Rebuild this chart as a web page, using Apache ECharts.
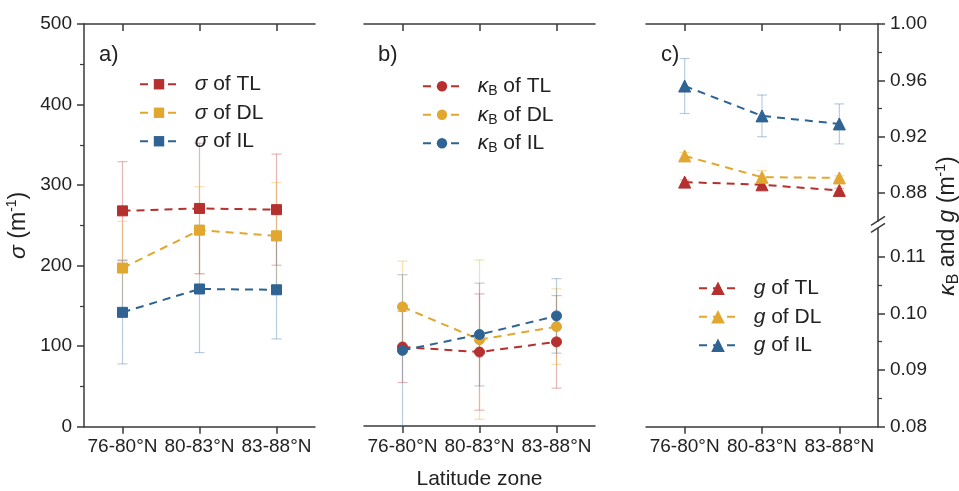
<!DOCTYPE html>
<html>
<head>
<meta charset="utf-8">
<script src="https://cdn.jsdelivr.net/npm/echarts@6/dist/echarts.min.js"></script>
<style>html,body{margin:0;padding:0;background:#fff}#c{width:959px;height:491px}</style>
</head>
<body>
<div id="c"></div>
<script>
// ---------- data ----------
const categories = ['76-80°N', '80-83°N', '83-88°N'];

const sigmaTL = [268, 271, 269.5];
const sigmaTLsd = [61, 81, 69];
const sigmaDL = [197, 244, 237];
const sigmaDLsd = [58, 54, 66];
const sigmaIL = [142, 171, 170];
const sigmaILsd = [64, 79, 61];

const kbTL = [0.0940, 0.0931, 0.0949];
const kbTLsd = [0.0063, 0.0103, 0.0082];
const kbDL = [0.1011, 0.0953, 0.0976];
const kbDLsd = [0.0081, 0.0141, 0.0067];
const kbIL = [0.0934, 0.0962, 0.0995];
const kbILsd = [0.0134, 0.0091, 0.0066];

const gTL = [0.8878, 0.8859, 0.8819];
const gTLsd = [0.0015, 0.0015, 0.0015];
const gDL = [0.9064, 0.8913, 0.8908];
const gDLsd = [0.0025, 0.0047, 0.0015];
const gIL = [0.9560, 0.9348, 0.9291];
const gILsd = [0.0195, 0.0148, 0.0142];

const gMajor = [0.88, 0.92, 0.96, 1.00];
const gMinor = [0.90, 0.94, 0.98];
const kMajor = [0.08, 0.09, 0.10, 0.11];
const kMinor = [0.085, 0.095, 0.105];

// ---------- style ----------
const FONT = "'Liberation Sans', Arial, sans-serif";
const RED = '#b5302f', YEL = '#e1a72f', BLU = '#2f6393';
const RED_E = 'rgba(200,80,80,0.42)', YEL_E = 'rgba(235,180,60,0.42)', BLU_E = 'rgba(70,120,170,0.38)';
const AX = '#3a3a3a';
const FS = 19;     // tick labels
const LFS = 21;    // legend / x name
const NFS = 23;    // y axis names

const LAY = { aLeft: 84, bLeft: 364, cLeft: 646, w: 231, top: 24, bottom: 426.7, upH: 197.3, lowTop: 228.4 };

const chart = echarts.init(document.getElementById('c'), null, { renderer: 'canvas' });

function errData(mean, sd) { return mean.map((m, i) => [i, m - sd[i], m + sd[i]]); }
function errRender(color) {
  return function (params, api) {
    const p1 = api.coord([api.value(0), api.value(1)]);
    const p2 = api.coord([api.value(0), api.value(2)]);
    const w = 5, st = { stroke: color, lineWidth: 1.2 };
    return { type: 'group', children: [
      { type: 'line', shape: { x1: p1[0], y1: p1[1], x2: p2[0], y2: p2[1] }, style: st },
      { type: 'line', shape: { x1: p1[0] - w, y1: p1[1], x2: p1[0] + w, y2: p1[1] }, style: st },
      { type: 'line', shape: { x1: p2[0] - w, y1: p2[1], x2: p2[0] + w, y2: p2[1] }, style: st }
    ]};
  };
}
function lineS(name, data, color, symbol, xi, yi) {
  return { type: 'line', name, data, xAxisIndex: xi, yAxisIndex: yi, symbol, symbolSize: symbol === 'triangle' ? 12 : 10,
    z: 5, itemStyle: { color, borderColor: color, opacity: 1 },
    lineStyle: { color, width: 2, type: [8, 6] }, emphasis: { disabled: true } };
}
function errS(mean, sd, color, xi, yi) {
  return { type: 'custom', name: 'err', xAxisIndex: xi, yAxisIndex: yi, renderItem: errRender(color),
    data: errData(mean, sd), encode: { x: 0, y: [1, 2] }, z: 2, silent: true };
}

function mkRich(fs) {
  return {
    i: { fontStyle: 'italic', fontSize: fs, fontFamily: FONT, color: '#222' },
    sub: { fontSize: Math.round(fs * 0.68), fontFamily: FONT, color: '#222', verticalAlign: 'bottom', lineHeight: Math.round(fs * 0.68) },
    sup: { fontSize: Math.round(fs * 0.62), fontFamily: FONT, color: '#222', verticalAlign: 'top', lineHeight: Math.round(fs * 0.62) },
    n: { fontSize: fs, fontFamily: FONT, color: '#222' }
  };
}

const legendNames = {
  sTL: '{i|σ}{n| of TL}', sDL: '{i|σ}{n| of DL}', sIL: '{i|σ}{n| of IL}',
  kTL: '{i|κ}{sub|B}{n| of TL}', kDL: '{i|κ}{sub|B}{n| of DL}', kIL: '{i|κ}{sub|B}{n| of IL}',
  gTL: '{i|g}{n| of TL}', gDL: '{i|g}{n| of DL}', gIL: '{i|g}{n| of IL}'
};
function legend(names, left, top, ih) {
  return { data: names, orient: 'vertical', left, top, itemWidth: 38, itemHeight: ih, itemGap: 4, padding: 0,
    selectedMode: false, formatter: n => '  ' + legendNames[n],
    textStyle: { fontSize: LFS, fontFamily: FONT, color: '#222', lineHeight: 24.5, rich: mkRich(LFS) } };
}

const xBase = { type: 'category', data: categories, boundaryGap: true,
  axisLine: { show: true, onZero: false, lineStyle: { color: AX, width: 1.5 } },
  axisTick: { show: true, alignWithLabel: true, length: 7, lineStyle: { color: AX, width: 1.5 } },
  splitLine: { show: false } };
function xBottom(gi, extra) {
  return Object.assign({}, xBase, { gridIndex: gi, position: 'bottom',
    axisLabel: { show: true, interval: 0, hideOverlap: false, fontSize: FS, fontFamily: FONT, color: '#222', margin: 11 } }, extra || {});
}
function xTop(gi) {
  return Object.assign({}, xBase, { gridIndex: gi, position: 'top', axisLabel: { show: false },
    axisTick: { show: true, inside: true, alignWithLabel: true, length: 7, lineStyle: { color: AX, width: 1.5 } } });
}
const ylab = { fontSize: FS, fontFamily: FONT, color: '#222', margin: 12 };

const option = {
  animation: false,
  backgroundColor: '#fff',
  grid: [
    { left: LAY.aLeft, top: LAY.top, width: LAY.w, height: LAY.bottom - LAY.top },
    { left: LAY.bLeft, top: LAY.top, width: LAY.w, height: LAY.upH },
    { left: LAY.bLeft, top: LAY.lowTop, width: LAY.w, height: LAY.bottom - LAY.lowTop },
    { left: LAY.cLeft, top: LAY.top, width: LAY.w + 1, height: LAY.upH },
    { left: LAY.cLeft, top: LAY.lowTop, width: LAY.w + 1, height: LAY.bottom - LAY.lowTop }
  ],
  xAxis: [
    xBottom(0),
    xTop(0),
    xTop(1),
    xBottom(2, { name: 'Latitude zone', nameLocation: 'middle', nameGap: 43,
      nameTextStyle: { fontSize: LFS, fontFamily: FONT, color: '#222' } }),
    xTop(3),
    xBottom(4)
  ],
  yAxis: [
    { type: 'value', gridIndex: 0, min: 0, max: 500, interval: 100, position: 'left',
      axisLine: { show: true, lineStyle: { color: AX, width: 1.5 } },
      axisTick: { show: true, length: 7, lineStyle: { color: AX, width: 1.5 } },
      minorTick: { show: true, splitNumber: 2, length: 4, lineStyle: { color: AX, width: 1.2 } },
      splitLine: { show: false }, axisLabel: ylab,
      name: '{i|σ}{n| (m}{sup|-1}{n|)}', nameLocation: 'middle', nameGap: 51, nameRotate: 90,
      nameTextStyle: { fontSize: NFS, fontFamily: FONT, color: '#222', lineHeight: 28, rich: mkRich(NFS) } },
    { type: 'value', gridIndex: 1, min: 0, max: 1, show: false },
    { type: 'value', gridIndex: 2, min: 0.08, max: 0.115, show: false },
    { type: 'value', gridIndex: 3, min: 0.86, max: 1.0, position: 'right',
      axisLine: { show: true, lineStyle: { color: AX, width: 1.5 } },
      axisTick: { show: true, length: 7, customValues: gMajor, lineStyle: { color: AX, width: 1.5 } },
      axisLabel: Object.assign({}, ylab, { customValues: gMajor, formatter: v => v.toFixed(2) }),
      splitLine: { show: false } },
    { type: 'value', gridIndex: 3, min: 0.86, max: 1.0, position: 'right',
      axisLine: { show: false },
      axisTick: { show: true, length: 4, customValues: gMinor, lineStyle: { color: AX, width: 1.2 } },
      axisLabel: { show: false }, splitLine: { show: false } },
    { type: 'value', gridIndex: 4, min: 0.08, max: 0.115, position: 'right',
      axisLine: { show: true, lineStyle: { color: AX, width: 1.5 } },
      axisTick: { show: true, length: 7, customValues: kMajor, lineStyle: { color: AX, width: 1.5 } },
      axisLabel: Object.assign({}, ylab, { customValues: kMajor, formatter: v => v.toFixed(2) }),
      splitLine: { show: false } },
    { type: 'value', gridIndex: 4, min: 0.08, max: 0.115, position: 'right',
      axisLine: { show: false },
      axisTick: { show: true, length: 4, customValues: kMinor, lineStyle: { color: AX, width: 1.2 } },
      axisLabel: { show: false }, splitLine: { show: false } }
  ],
  legend: [
    legend(['sTL', 'sDL', 'sIL'], 139, 72, 13),
    legend(['kTL', 'kDL', 'kIL'], 422, 74, 13),
    legend(['gTL', 'gDL', 'gIL'], 698, 276, 17)
  ],
  series: [
    errS(sigmaTL, sigmaTLsd, RED_E, 0, 0), errS(sigmaDL, sigmaDLsd, YEL_E, 0, 0), errS(sigmaIL, sigmaILsd, BLU_E, 0, 0),
    lineS('sTL', sigmaTL, RED, 'rect', 0, 0), lineS('sDL', sigmaDL, YEL, 'rect', 0, 0), lineS('sIL', sigmaIL, BLU, 'rect', 0, 0),
    errS(kbTL, kbTLsd, RED_E, 3, 2), errS(kbDL, kbDLsd, YEL_E, 3, 2), errS(kbIL, kbILsd, BLU_E, 3, 2),
    lineS('kTL', kbTL, RED, 'circle', 3, 2), lineS('kDL', kbDL, YEL, 'circle', 3, 2), lineS('kIL', kbIL, BLU, 'circle', 3, 2),
    errS(gTL, gTLsd, RED_E, 4, 3), errS(gDL, gDLsd, YEL_E, 4, 3), errS(gIL, gILsd, BLU_E, 4, 3),
    lineS('gTL', gTL, RED, 'triangle', 4, 3), lineS('gDL', gDL, YEL, 'triangle', 4, 3), lineS('gIL', gIL, BLU, 'triangle', 4, 3)
  ],
  graphic: [
    { type: 'text', left: 99, top: 44, style: { text: 'a)', fontSize: 22, fontFamily: FONT, fill: '#222' } },
    { type: 'text', left: 378, top: 44, style: { text: 'b)', fontSize: 22, fontFamily: FONT, fill: '#222' } },
    { type: 'text', left: 661, top: 44, style: { text: 'c)', fontSize: 22, fontFamily: FONT, fill: '#222' } },
    { type: 'text', x: 948, y: 226, rotation: Math.PI / 2,
      style: { text: '{i|κ}{sub|B}{n| and }{i|g}{n| (m}{sup|-1}{n|)}', align: 'center', verticalAlign: 'middle',
        fontSize: NFS, fontFamily: FONT, fill: '#222', lineHeight: 28, rich: mkRich(NFS) } },
    { type: 'line', shape: { x1: LAY.cLeft + LAY.w + 1 - 7, y1: LAY.top + LAY.upH + 4, x2: LAY.cLeft + LAY.w + 1 + 7, y2: LAY.top + LAY.upH - 5 },
      style: { stroke: AX, lineWidth: 1.5 } },
    { type: 'line', shape: { x1: LAY.cLeft + LAY.w + 1 - 7, y1: LAY.lowTop + 4, x2: LAY.cLeft + LAY.w + 1 + 7, y2: LAY.lowTop - 5 },
      style: { stroke: AX, lineWidth: 1.5 } }
  ]
};
chart.setOption(option);
</script>
</body>
</html>
